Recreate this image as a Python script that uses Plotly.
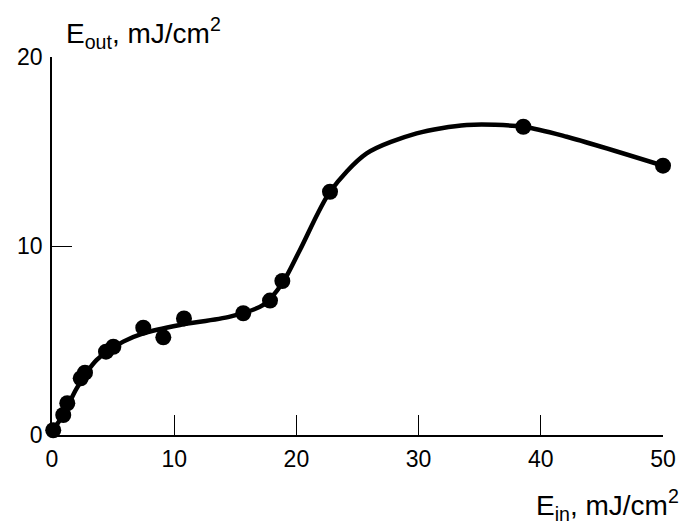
import plotly.graph_objects as go

# measured points
pts_x = [0.1, 0.92, 1.25, 2.35, 2.7, 4.42, 5.02, 7.47, 9.11, 10.8, 15.65, 17.84, 18.85, 22.75, 38.57, 50.0]
pts_y = [0.25, 1.06, 1.68, 3.0, 3.3, 4.41, 4.67, 5.68, 5.17, 6.17, 6.44, 7.11, 8.15, 12.87, 16.31, 14.25]

# smooth guide curve
curve_x = [0.08, 0.92, 2.02, 3.66, 5.83, 7.47, 10.47, 14.57, 17.29, 18.85, 20.29, 22.75, 25.75, 29.84, 33.94, 38.57, 42.12, 50.0]
curve_y = [0.26, 1.06, 2.47, 3.97, 4.94, 5.38, 5.82, 6.26, 6.88, 8.03, 9.79, 12.87, 14.9, 15.96, 16.4, 16.31, 15.78, 14.25]

x_ticks = [0, 10, 20, 30, 40, 50]
y_ticks = [0, 10, 20]

FONT = "Liberation Sans, Arial, sans-serif"

fig = go.Figure()
fig.add_trace(go.Scatter(x=curve_x, y=curve_y, mode="lines",
                         line=dict(color="black", width=4.5, shape="spline", smoothing=0.8),
                         hoverinfo="skip"))
fig.add_trace(go.Scatter(x=pts_x, y=pts_y, mode="markers",
                         marker=dict(color="black", size=16), cliponaxis=False))

L, T, W, H = 52, 57, 611, 378
fig.update_layout(
    width=684, height=527,
    margin=dict(l=L, r=684 - L - W, t=T, b=527 - T - H, autoexpand=False),
    paper_bgcolor="white", plot_bgcolor="white",
    showlegend=False,
    font=dict(family=FONT, color="black", size=23),
    xaxis=dict(range=[0, 50], tickvals=x_ticks, ticktext=[str(v) for v in x_ticks],
               ticks="inside", ticklen=20, tickwidth=1.3, tickcolor="black",
               showline=True, linecolor="black", linewidth=1.5,
               showgrid=False, zeroline=False, ticklabelstandoff=3,
               tickfont=dict(size=23)),
    yaxis=dict(range=[0, 20], tickvals=y_ticks, ticktext=[str(v) for v in y_ticks],
               ticks="inside", ticklen=20, tickwidth=1.3, tickcolor="black",
               showline=True, linecolor="black", linewidth=1.5,
               showgrid=False, zeroline=False, ticklabelstandoff=3,
               tickfont=dict(size=23)),
)

fig.add_annotation(text="E<sub>out</sub>, mJ/cm<sup>2</sup>", xref="paper", yref="paper",
                   x=(64 - L) / W, y=(435 - 33) / H, xanchor="left", yanchor="middle",
                   showarrow=False, font=dict(size=28))
fig.add_annotation(text="E<sub>in</sub>, mJ/cm<sup>2</sup>", xref="paper", yref="paper",
                   x=(681 - L) / W, y=(435 - 505) / H, xanchor="right", yanchor="middle",
                   showarrow=False, font=dict(size=28))

fig.write_html("out.html", config={"displayModeBar": False},
               post_script="document.body.style.margin='0';document.body.style.overflow='hidden';")
